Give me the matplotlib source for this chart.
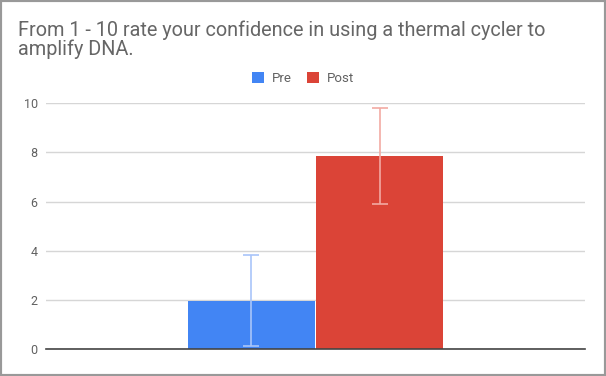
import matplotlib
matplotlib.use("Agg")
import matplotlib.pyplot as plt
from matplotlib.patches import Rectangle

series = ["Pre", "Post"]
means = [1.97, 7.85]
errors = [1.84, 1.96]
colors = ["#4285F4", "#DB4437"]
err_colors = ["#a9c5fa", "#f2aaa3"]
yticks = [0, 2, 4, 6, 8, 10]
title_lines = ["From 1 - 10 rate your confidence in using a thermal cycler to",
               "amplify DNA."]

plt.rcParams["font.family"] = ["Roboto", "DejaVu Sans"]

fig = plt.figure(figsize=(6.06, 3.76), dpi=100)
ax = fig.add_axes([0.0759, 0.0718, 0.8894, 0.6535])

positions = [-0.5, 0.5]
for x, m, e, c, ec, name in zip(positions, means, errors, colors, err_colors, series):
    ax.bar(x, m, width=0.99, color=c, label=name, zorder=2)
    ax.errorbar(x, m, yerr=e, ecolor=ec, elinewidth=1.2, capsize=6,
                capthick=1.2, fmt="none", zorder=3)

ax.set_xlim(-2.1, 2.1)
ax.set_ylim(0, 10)
ax.set_yticks(yticks)
ax.set_xticks([])
ax.grid(axis="y", color="#d6d6d6", linewidth=1, zorder=0)
for s in ["top", "right", "left"]:
    ax.spines[s].set_visible(False)
ax.spines["bottom"].set_color("#444444")
ax.spines["bottom"].set_linewidth(1.2)
ax.spines["bottom"].set_zorder(4)
ax.tick_params(axis="y", length=0, labelsize=9, labelcolor="#616161", pad=6)

fig.text(0.030, 1 - 35.7 / 376, title_lines[0], fontsize=14.3, color="#666666",
         va="baseline", ha="left")
fig.text(0.030, 1 - 55.0 / 376, title_lines[1], fontsize=14.3, color="#666666",
         va="baseline", ha="left")

leg = fig.legend(loc="center", bbox_to_anchor=(0.5, 1 - 78.5 / 376), ncol=2, frameon=False,
                 fontsize=9.5, handlelength=0.9, handleheight=0.9, columnspacing=1.2,
                 handletextpad=0.6)
for t in leg.get_texts():
    t.set_color("#616161")

fig.patches.append(Rectangle((0, 0), 1, 1, transform=fig.transFigure, fill=False,
                             edgecolor="#999999", linewidth=3))

fig.savefig("out.png", dpi=100)
